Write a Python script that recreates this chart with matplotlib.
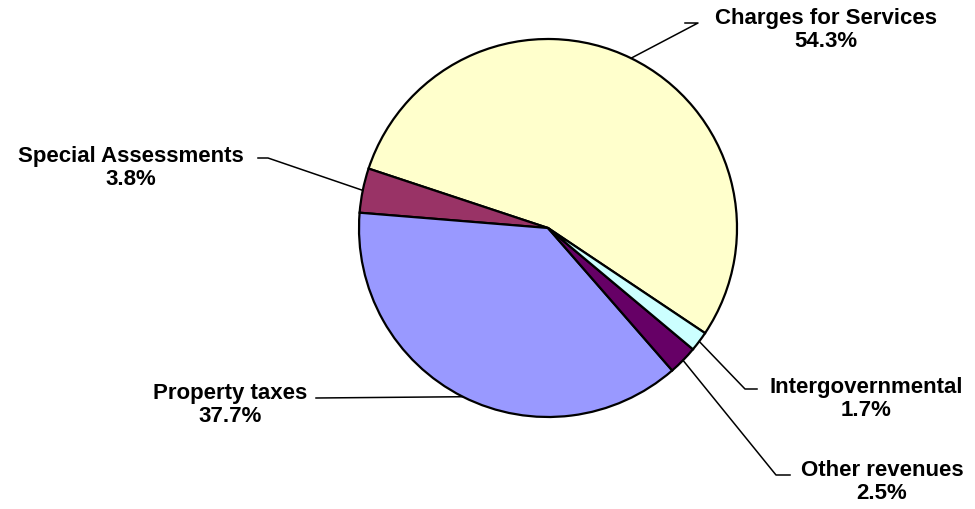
import numpy as np
import matplotlib
matplotlib.use("Agg")
import matplotlib.pyplot as plt

# --- DATA ---
labels = ["Charges for Services", "Special Assessments", "Property taxes",
          "Other revenues", "Intergovernmental"]
shares = [54.3, 3.8, 37.7, 2.5, 1.7]
colors = ["#FFFFCC", "#993366", "#9999FF", "#660066", "#CCFFFF"]

# --- LAYOUT (pixel coords, y measured from top) ---
W, H = 975, 509
cx, cy, rad = 548, 228, 189
start = -33.8
# label centre, leader elbow start, elbow end (next to the text)
label_pos = [(826, 30), (131, 168), (230, 405), (882, 482), (866, 399)]
elbows = [[(698, 23), (685, 23)],
          [(268, 158), (258, 158)],
          [(316, 398)],
          [(776, 475), (790, 475)],
          [(745, 389), (757, 389)]]

plt.rcParams['font.family'] = ['Liberation Sans', 'DejaVu Sans']

fig = plt.figure(figsize=(W / 100, H / 100), dpi=100)
ax = fig.add_axes([0, 0, 1, 1])

wedges, _ = ax.pie(shares, colors=colors, startangle=start, counterclock=True,
                   center=(cx, H - cy), radius=rad, frame=True,
                   wedgeprops=dict(edgecolor='black', linewidth=1.6))
ax.set_xlim(0, W)
ax.set_ylim(0, H)
ax.set_aspect('equal')
ax.axis('off')

for w, lab, val, (tx, ty), pts in zip(wedges, labels, shares, label_pos, elbows):
    mid = np.deg2rad((w.theta1 + w.theta2) / 2)
    px = cx + rad * np.cos(mid)
    py = (H - cy) + rad * np.sin(mid)
    xs = [px] + [p[0] for p in pts]
    ys = [py] + [H - p[1] for p in pts]
    ax.plot(xs, ys, color='black', linewidth=1.1)
    ax.text(tx, H - ty, f"{lab}\n{val:.1f}%", ha='center', va='center',
            fontsize=16, fontweight='bold', linespacing=1.1)

fig.savefig("out.png", dpi=100)
